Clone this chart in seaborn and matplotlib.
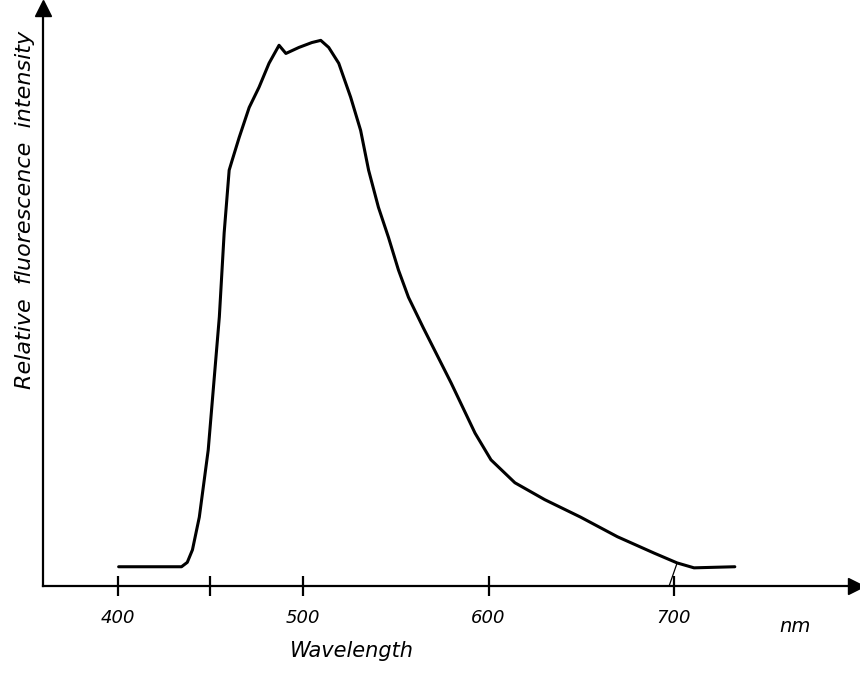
import matplotlib
matplotlib.use("Agg")
import matplotlib.pyplot as plt
import numpy as np
import pandas as pd
import seaborn as sns

# 读出的荧光光谱曲线 (波长 nm, 相对强度, 峰值=100)
wavelength = [400.5, 434.4, 437.5, 440.3, 444.0, 448.8, 454.8, 457.4, 460.1, 461.7,
              465.5, 470.9, 476.2, 481.6, 487.0, 490.7, 497.7, 504.7, 509.5, 513.8,
              519.2, 525.6, 531.0, 535.3, 540.6, 546.0, 551.4, 556.8, 564.8, 579.8,
              592.7, 601.3, 614.2, 630.3, 649.6, 669.5, 689.3, 701.7, 710.8, 732.8]
intensity = [3.5, 3.5, 4.3, 6.6, 12.6, 24.9, 49.3, 64.7, 76.2, 78.0,
             82.2, 87.7, 91.4, 95.8, 99.1, 97.6, 98.7, 99.6, 100.0, 98.7,
             95.8, 89.6, 83.5, 76.2, 69.4, 63.9, 57.9, 52.9, 47.3, 37.2,
             28.0, 23.1, 18.9, 15.8, 12.6, 9.0, 6.0, 4.2, 3.3, 3.5]

# 坐标轴刻度
tick_pos = [400, 450, 500, 600, 700]
tick_labels = ["400", "", "500", "600", "700"]

# 700 nm 附近的小指示线
pointer_nm = [701.7, 697.4]
pointer_y = [4.2, 0.0]

df = pd.DataFrame({"wavelength": wavelength, "intensity": intensity})

sns.set_style("white")
plt.rcParams["font.family"] = ["DejaVu Sans"]
plt.rcParams["text.color"] = "black"
plt.rcParams["axes.labelcolor"] = "black"
plt.rcParams["xtick.color"] = "black"

fig = plt.figure(figsize=(8.6, 6.82), dpi=100)
ax = fig.add_axes([0.05, 0.141, 0.945, 0.847])

sns.lineplot(data=df, x="wavelength", y="intensity", ax=ax,
             color="black", linewidth=2.2, sort=False)
ax.plot(pointer_nm, pointer_y, color="black", linewidth=0.9)

ax.set_xlim(359.7, 798)
ax.set_ylim(0, 105.9)

for s in ["top", "right"]:
    ax.spines[s].set_visible(False)
for s in ["left", "bottom"]:
    ax.spines[s].set_linewidth(1.6)
    ax.spines[s].set_color("black")

# 箭头
ax.plot(1, 0, ">", color="black", markersize=11, transform=ax.transAxes, clip_on=False)
ax.plot(0, 1, "^", color="black", markersize=11, transform=ax.transAxes, clip_on=False)

ax.set_xticks(tick_pos)
ax.set_xticklabels(tick_labels, fontsize=13, style="italic")
ax.tick_params(axis="x", bottom=True, direction="inout", length=14, width=1.6,
               pad=10, color="black", labelcolor="black")
ax.set_yticks([])

ax.set_xlabel("Wavelength", fontsize=15, style="italic")
ax.xaxis.set_label_coords(0.38, -0.095)
ax.set_ylabel("Relative  fluorescence  intensity", fontsize=16, style="italic")
ax.yaxis.set_label_coords(-0.01, 0.65)

ax.text(0.925, -0.071, "nm", transform=ax.transAxes, fontsize=14, style="italic",
        ha="center", va="center")

fig.savefig("out.png", dpi=100)
